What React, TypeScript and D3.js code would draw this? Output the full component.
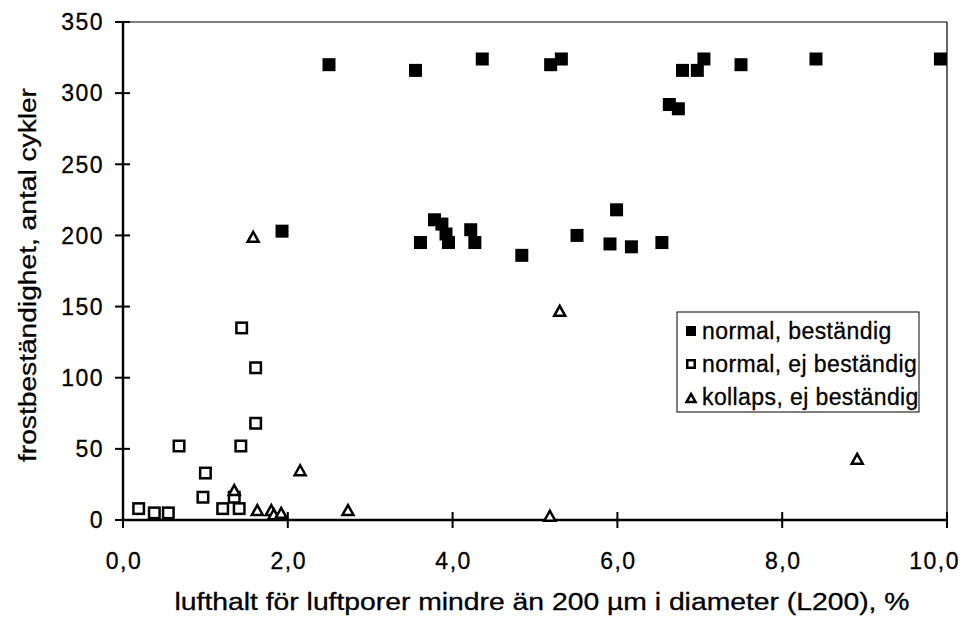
import * as d3 from "d3";

// normal, beständig (filled squares)
const normalOkX = [2.5, 3.55, 4.36, 5.19, 5.32, 6.79, 6.97, 7.05, 6.63, 6.74, 7.5, 8.41, 9.92, 1.93, 3.61, 3.78, 3.87, 3.92, 3.95, 4.22, 4.27, 4.84, 5.51, 5.99, 5.91, 6.17, 6.54];
const normalOkY = [320, 316, 324, 320, 324, 316, 316, 324, 292, 289, 320, 324, 324, 203, 195, 211, 208, 201, 195, 204, 195, 186, 200, 218, 194, 192, 195];

// normal, ej beständig (open squares)
const normalFailX = [1.44, 1.61, 1.61, 0.68, 1.43, 1.0, 0.97, 0.19, 0.38, 0.55, 1.21, 1.41, 1.35];
const normalFailY = [135, 107, 68, 52, 52, 33, 16, 8, 5, 5, 8, 8, 16];

// kollaps, ej beständig (open triangles)
const collapseX = [1.58, 2.15, 2.73, 1.63, 1.8, 1.83, 1.92, 1.35, 5.3, 8.91, 5.18];
const collapseY = [199, 35, 7, 7, 7, 4, 5, 21, 147, 43, 3];

const xTicks = [0, 2, 4, 6, 8, 10];
const yTicks = [0, 50, 100, 150, 200, 250, 300, 350];

const legendLabels = ["normal, beständig", "normal, ej beständig", "kollaps, ej beständig"];

const W = 976;
const H = 624;
const font = "'Liberation Sans', Arial, sans-serif";

const x = d3.scaleLinear().domain([0, 10]).range([123, 947]);
const y = d3.scaleLinear().domain([0, 350]).range([520, 22]);

const fmt = (v: number) => v.toFixed(1).replace(".", ",");

function Square({ cx, cy, s, filled }: { cx: number; cy: number; s: number; filled: boolean }) {
  return filled ? (
    <rect x={cx - s / 2} y={cy - s / 2} width={s} height={s} fill="#000" />
  ) : (
    <rect x={cx - s / 2 + 1.25} y={cy - s / 2 + 1.25} width={s - 2.5} height={s - 2.5} fill="#fff" stroke="#000" strokeWidth={2.5} />
  );
}

function Triangle({ cx, cy, s }: { cx: number; cy: number; s: number }) {
  const h = s * 0.9;
  const p = d3.path();
  p.moveTo(cx, cy - h / 2);
  p.lineTo(cx + s / 2, cy + h / 2);
  p.lineTo(cx - s / 2, cy + h / 2);
  p.closePath();
  return <path d={p.toString()} fill="#fff" stroke="#000" strokeWidth={2.5} strokeLinejoin="miter" />;
}

export default function App() {
  const [x0, x1] = x.range();
  const [y0, y1] = y.range();
  const lx = 677;
  const ly = 312;
  const rows = [331, 364, 397];
  const txt = { fontSize: 23, stroke: "#000", strokeWidth: 0.3 };
  const last = xTicks[xTicks.length - 1];

  return (
    <svg
      width={W}
      height={H}
      style={{ position: "fixed", left: 0, top: 0, background: "#fff" }}
      fontFamily={font}
    >
      <rect width={W} height={H} fill="#fff" />

      {/* frame */}
      <line x1={x0} x2={x1} y1={y1} y2={y1} stroke="#000" strokeWidth={1.2} />
      <line x1={x1} x2={x1} y1={y1} y2={y0} stroke="#000" strokeWidth={1.2} />
      <line x1={x0} x2={x0} y1={y1} y2={y0} stroke="#000" strokeWidth={2.4} />
      <line x1={x0} x2={x1} y1={y0} y2={y0} stroke="#000" strokeWidth={2.4} />

      {/* y ticks */}
      {yTicks.map((t) => (
        <g key={"y" + t}>
          <line x1={x0 - 8} x2={x0 + 7} y1={y(t)} y2={y(t)} stroke="#000" strokeWidth={2} />
          <text x={104} y={y(t)} dy="0.36em" textAnchor="end" letterSpacing={1.5} {...txt}>
            {t}
          </text>
        </g>
      ))}

      {/* x ticks; the last label is pulled in so it ends inside the picture */}
      {xTicks.map((t) => (
        <g key={"x" + t}>
          <line x1={x(t)} x2={x(t)} y1={y0 - 8} y2={y0 + 8} stroke="#000" strokeWidth={2} />
          <text
            x={t === last ? 960 : x(t) + 1}
            y={561}
            dy="0.36em"
            textAnchor={t === last ? "end" : "middle"}
            letterSpacing={1.5}
            {...txt}
          >
            {fmt(t)}
          </text>
        </g>
      ))}

      <text x={542} y={602} dy="0.36em" textAnchor="middle" textLength={735} lengthAdjust="spacingAndGlyphs" {...txt}>
        lufthalt för luftporer mindre än 200 µm i diameter (L200), %
      </text>
      <text
        transform={`translate(28,275) rotate(-90)`}
        dy="0.36em"
        textAnchor="middle"
        textLength={374}
        lengthAdjust="spacingAndGlyphs"
        {...txt}
      >
        frostbeständighet, antal cykler
      </text>

      {/* points */}
      {normalOkX.map((v, i) => (
        <Square key={"a" + i} cx={x(v)} cy={y(normalOkY[i])} s={13} filled />
      ))}
      {normalFailX.map((v, i) => (
        <Square key={"b" + i} cx={x(v)} cy={y(normalFailY[i])} s={13} filled={false} />
      ))}
      {collapseX.map((v, i) => (
        <Triangle key={"c" + i} cx={x(v)} cy={y(collapseY[i])} s={11} />
      ))}

      {/* legend */}
      <rect x={lx} y={ly} width={242} height={100} fill="#fff" stroke="#000" strokeWidth={1} />
      <Square cx={691} cy={rows[0]} s={10} filled />
      <Square cx={691} cy={rows[1]} s={10} filled={false} />
      <Triangle cx={691} cy={rows[2] + 1} s={9} />
      {legendLabels.map((l, i) => (
        <text key={l} x={702} y={rows[i]} dy="0.36em" letterSpacing={0.4} {...txt}>
          {l}
        </text>
      ))}
    </svg>
  );
}
